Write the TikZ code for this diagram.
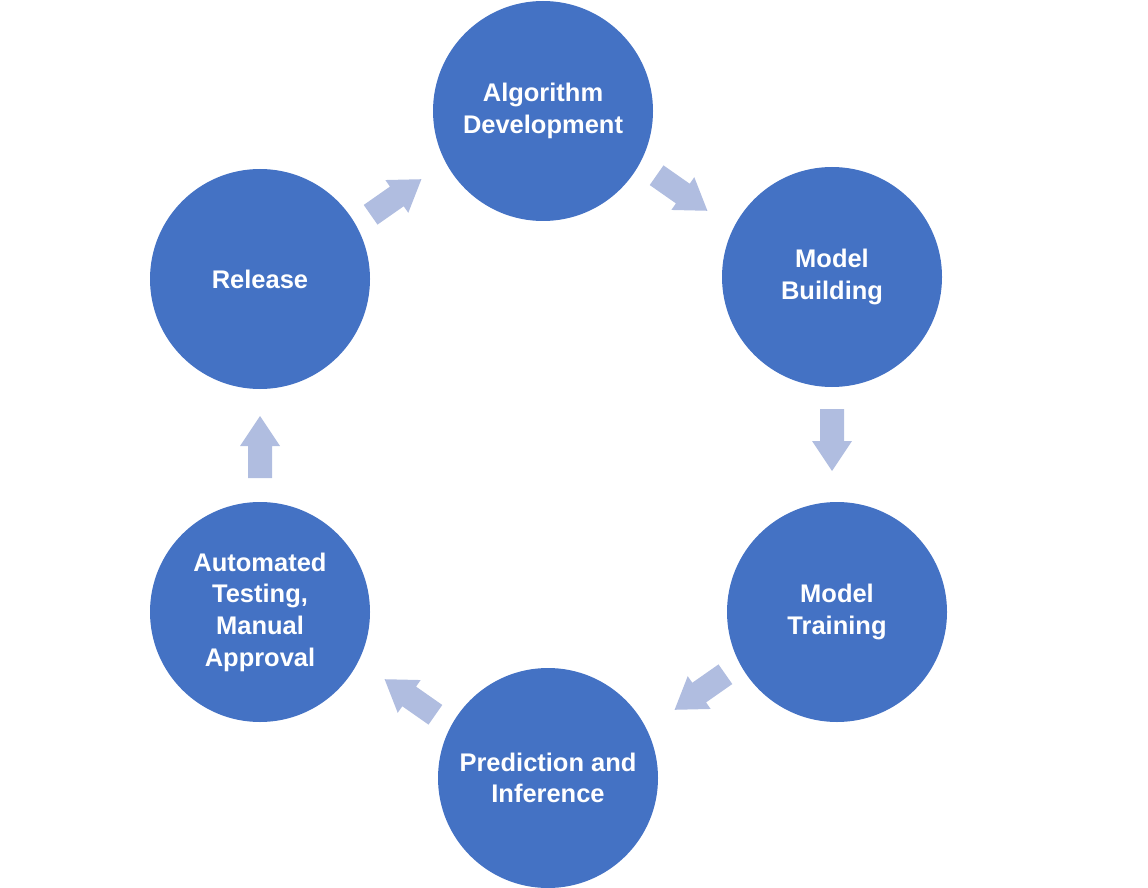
\documentclass[tikz,border=0pt]{standalone}
\usepackage{fontspec}
\setmainfont{Liberation Sans}
\definecolor{circc}{HTML}{4472C4}
\definecolor{arrc}{HTML}{B0BDE0}
\begin{document}
\begin{tikzpicture}[x=0.02cm,y=-0.02cm,
  stage/.style={circle,fill=circc,minimum size=220*0.02cm,inner sep=0pt,align=center,text=white,font=\bfseries\fontsize{14.5}{18}\selectfont},
  barrow/.pic={\fill[arrc] (-31,-12)--(1,-12)--(1,-20)--(31,0)--(1,20)--(1,12)--(-31,12)--cycle;}]
\useasboundingbox (0,0) rectangle (1148,888);
\node[stage] (alg) at (543,111) {Algorithm\\Development};
\node[stage] (mb) at (832,277) {Model\\Building};
\node[stage] (mt) at (837,612) {Model\\Training};
\node[stage] (pi) at (548,778) {Prediction and\\Inference};
\node[stage] (at) at (260,612) {Automated\\Testing,\\Manual\\Approval};
\node[stage] (rel) at (260,279) {Release};
\pic[rotate=35] at (396,197) {barrow};
\pic[rotate=-35] at (682,193) {barrow};
\pic[rotate=-90] at (832,440) {barrow};
\pic[rotate=215] at (700,692) {barrow};
\pic[rotate=145] at (410,697) {barrow};
\pic[rotate=90] at (260,447) {barrow};
\end{tikzpicture}
\end{document}
